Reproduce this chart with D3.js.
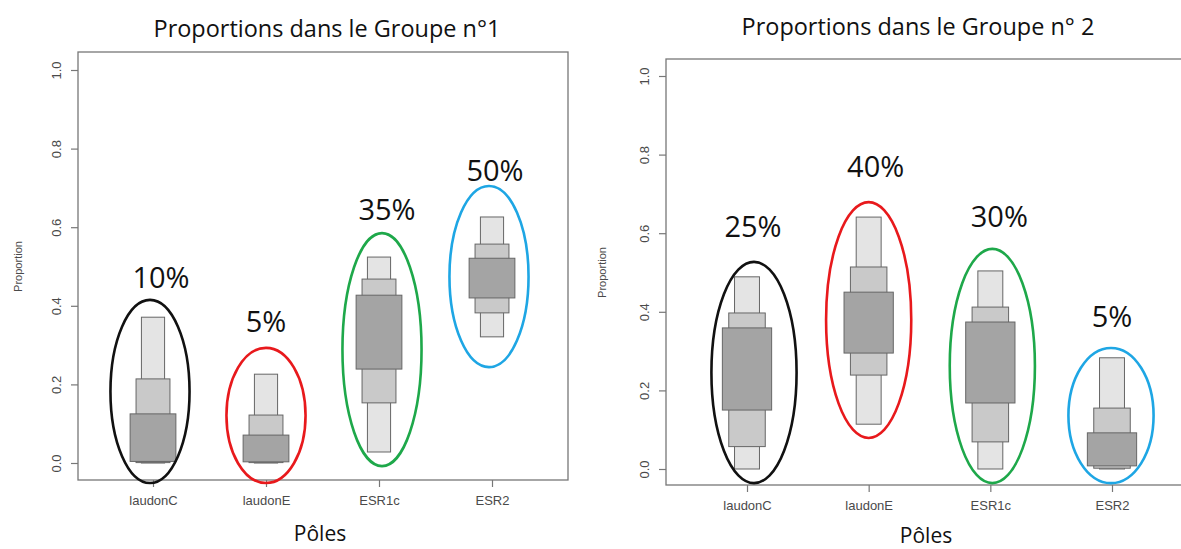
<!DOCTYPE html>
<html>
<head>
<meta charset="utf-8">
<script src="https://cdn.jsdelivr.net/npm/d3@7"></script>
<style>
  html, body { margin: 0; padding: 0; background: #ffffff; }
  svg { display: block; }
</style>
</head>
<body>
<svg id="chart" width="1181" height="549"></svg>
<script>
// ---------------- DATA ----------------
const categories = ["laudonC", "laudonE", "ESR1c", "ESR2"];
const yTicks = [0.0, 0.2, 0.4, 0.6, 0.8, 1.0];

// Groupe n°1 : nested intervals (outer light, middle, inner dark)
const g1LightLo = [0.000, 0.000, 0.028, 0.321];
const g1LightHi = [0.371, 0.226, 0.524, 0.626];
const g1MidLo   = [0.001, 0.001, 0.153, 0.382];
const g1MidHi   = [0.214, 0.122, 0.468, 0.557];
const g1DarkLo  = [0.004, 0.003, 0.239, 0.420];
const g1DarkHi  = [0.125, 0.071, 0.427, 0.521];
const g1Percent = ["10%", "5%", "35%", "50%"];
const g1LabelAt = [0.445, 0.333, 0.618, 0.718];
const g1EllTop  = [0.415, 0.293, 0.585, 0.705];
const g1EllBot  = [-0.051, -0.051, -0.008, 0.244];

// Groupe n°2
const g2LightLo = [0.000, 0.114, 0.000, 0.000];
const g2LightHi = [0.489, 0.641, 0.504, 0.283];
const g2MidLo   = [0.057, 0.239, 0.069, 0.002];
const g2MidHi   = [0.397, 0.514, 0.412, 0.155];
const g2DarkLo  = [0.150, 0.295, 0.168, 0.008];
const g2DarkHi  = [0.359, 0.450, 0.374, 0.092];
const g2Percent = ["25%", "40%", "30%", "5%"];
const g2LabelAt = [0.590, 0.743, 0.616, 0.361];
const g2EllTop  = [0.527, 0.679, 0.560, 0.308];
const g2EllBot  = [-0.036, 0.079, -0.036, -0.036];

const ellipseColors = ["#111111", "#e8191c", "#1ea84a", "#1ea6e4"];

// ---------------- LAYOUT ----------------
const panels = [
  {
    title: "Proportions dans le Groupe n°1", titleX: 327, titleY: 37, titleW: 347,
    box: {x0: 78, x1: 568, y0: 52, y1: 480},
    yRange: [463, 70], xRange: [153, 492],
    yLabelX: 22, xTitleX: 320, xTitleY: 541,
    labelDx: [8, 0, 8, 3], ellDx: [-3, 0, 3, -3],
    light: [g1LightLo, g1LightHi], mid: [g1MidLo, g1MidHi], dark: [g1DarkLo, g1DarkHi],
    pct: g1Percent, pctAt: g1LabelAt, ellTop: g1EllTop, ellBot: g1EllBot
  },
  {
    title: "Proportions dans le Groupe n° 2", titleX: 918, titleY: 35, titleW: 353,
    box: {x0: 666, x1: 1195, y0: 59, y1: 485},
    yRange: [469, 76], xRange: [747, 1112],
    yLabelX: 606, xTitleX: 926, xTitleY: 543,
    labelDx: [6, 7, 9, 0], ellDx: [7, 0, 2, -1],
    light: [g2LightLo, g2LightHi], mid: [g2MidLo, g2MidHi], dark: [g2DarkLo, g2DarkHi],
    pct: g2Percent, pctAt: g2LabelAt, ellTop: g2EllTop, ellBot: g2EllBot
  }
];

const svg = d3.select("#chart");
const axisFont = "'Liberation Sans', Arial, sans-serif";
const textFont = "'Open Sans', 'Noto Sans', sans-serif";

panels.forEach(p => {
  const g = svg.append("g");
  const y = d3.scaleLinear().domain([0, 1]).range(p.yRange);
  const x = d3.scalePoint().domain(categories).range(p.xRange);
  const step = (p.xRange[1] - p.xRange[0]) / (categories.length - 1);

  const layers = [
    {d: p.light, w: 0.205, fill: "#e4e4e4"},
    {d: p.mid,   w: 0.30,  fill: "#c9c9c9"},
    {d: p.dark,  w: 0.405, fill: "#a4a4a4"}
  ];
  layers.forEach(L => {
    g.selectAll(null)
      .data(categories)
      .enter().append("rect")
      .attr("x", c => x(c) - L.w * step / 2)
      .attr("width", L.w * step)
      .attr("y", (c, i) => y(L.d[1][i]))
      .attr("height", (c, i) => y(L.d[0][i]) - y(L.d[1][i]))
      .attr("fill", L.fill)
      .attr("stroke", "#666666")
      .attr("stroke-width", 1);
  });

  // plot box
  g.append("rect")
    .attr("x", p.box.x0).attr("y", p.box.y0)
    .attr("width", p.box.x1 - p.box.x0).attr("height", p.box.y1 - p.box.y0)
    .attr("fill", "none").attr("stroke", "#777").attr("stroke-width", 1.3);

  // y axis
  const ya = g.append("g")
    .attr("transform", `translate(${p.box.x0},0)`)
    .call(d3.axisLeft(y).tickValues(yTicks).tickFormat(d3.format(".1f")).tickSize(7));
  ya.select(".domain").remove();
  ya.selectAll(".tick line").attr("stroke", "#777").attr("stroke-width", 1.2);
  ya.selectAll(".tick text")
    .attr("transform", "rotate(-90)")
    .attr("x", 0).attr("y", -17).attr("dy", null)
    .attr("text-anchor", "middle")
    .attr("font-family", axisFont).attr("font-size", 13).attr("fill", "#4a4a4a");

  // x axis
  const xa = g.append("g")
    .attr("transform", `translate(0,${p.box.y1})`)
    .call(d3.axisBottom(x).tickSize(7));
  xa.select(".domain").remove();
  xa.selectAll(".tick line").attr("stroke", "#777").attr("stroke-width", 1.2);
  xa.selectAll(".tick text")
    .attr("y", 25).attr("dy", null)
    .attr("font-family", axisFont).attr("font-size", 13).attr("fill", "#4a4a4a");

  // axis titles
  g.append("text")
    .attr("transform", `translate(${p.yLabelX},${(p.yRange[0] + p.yRange[1]) / 2}) rotate(-90)`)
    .attr("text-anchor", "middle")
    .attr("font-family", axisFont).attr("font-size", 11).attr("fill", "#4a4a4a")
    .text("Proportion");

  g.append("text")
    .attr("x", p.xTitleX).attr("y", p.xTitleY)
    .attr("text-anchor", "middle")
    .attr("font-family", textFont).attr("font-size", 21).attr("fill", "#111")
    .text("Pôles");

  // title, fitted to target width
  const t = g.append("text")
    .attr("x", p.titleX).attr("y", p.titleY)
    .attr("text-anchor", "middle")
    .attr("font-family", textFont).attr("font-size", 20).attr("fill", "#111")
    .text(p.title);
  const len = t.node().getComputedTextLength();
  if (len > 0) t.attr("font-size", 20 * p.titleW / len);

  // ellipses
  g.selectAll(null)
    .data(categories)
    .enter().append("ellipse")
    .attr("cx", (c, i) => x(c) + p.ellDx[i])
    .attr("cy", (c, i) => (y(p.ellTop[i]) + y(p.ellBot[i])) / 2)
    .attr("rx", 0.35 * step)
    .attr("ry", (c, i) => (y(p.ellBot[i]) - y(p.ellTop[i])) / 2)
    .attr("fill", "none")
    .attr("stroke", (c, i) => ellipseColors[i])
    .attr("stroke-width", 2.6);

  // percentage labels
  g.selectAll(null)
    .data(categories)
    .enter().append("text")
    .attr("x", (c, i) => x(c) + p.labelDx[i])
    .attr("y", (c, i) => y(p.pctAt[i]))
    .attr("text-anchor", "middle")
    .attr("font-family", textFont).attr("font-size", 29).attr("fill", "#111")
    .text((c, i) => p.pct[i]);
});
</script>
</body>
</html>
